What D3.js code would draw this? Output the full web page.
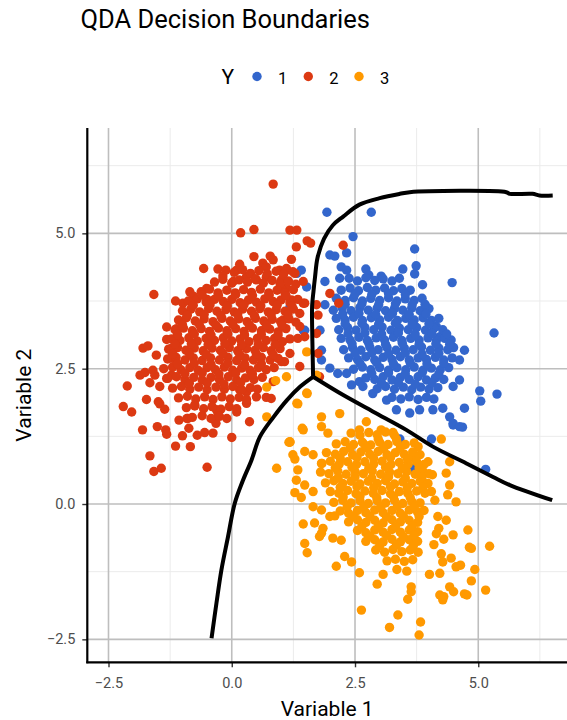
<!DOCTYPE html>
<html>
<head>
<meta charset="utf-8">
<script src="https://cdn.jsdelivr.net/npm/d3@7"></script>
<style>
  body { margin: 0; background: #fff; }
  text { font-family: Roboto, "Noto Sans", sans-serif; }
</style>
</head>
<body>
<div id="chart"></div>
<script>
// classes and colours
var classes = ["1", "2", "3"];
var classColors = ["#3366CC", "#DC3912", "#FF9900"];

// tick values
var xTicks = [-2.5, 0, 2.5, 5];
var yTicks = [-2.5, 0, 2.5, 5];
var xMinor = [-1.25, 1.25, 3.75, 6.25];
var yMinor = [-1.25, 1.25, 3.75, 6.25];

// class 1 (blue)
var bluePoints = [
  [1.93,5.39],[2.83,5.39],[2.46,4.94],[1.99,4.60],[2.09,4.58],[2.33,4.64],[2.22,4.38],[2.33,4.32],[2.19,4.17],
  [3.71,4.71],[3.47,4.34],[3.74,4.40],[3.71,4.25],[2.72,4.34],[2.78,4.23],[3.03,4.21],[4.47,4.09],[3.87,4.05],
  [5.32,3.16],[5.03,2.09],[5.05,1.90],[5.38,2.03],[4.72,1.77],[4.49,1.46],[4.68,1.42],[2.59,2.26],[2.43,2.20],
  [1.89,3.68],[1.48,3.21],[1.82,2.84],[1.82,2.66],[1.99,2.51],[2.15,2.41],[2.33,2.41],[2.66,2.17],[2.86,2.04],
  [3.14,1.92],[3.34,1.74],[3.61,1.68],[3.81,1.74],[4.08,1.74],[4.28,1.77],[4.42,1.61],[4.49,2.17],[4.62,2.29],
  [4.72,2.84],[4.62,2.66],[4.15,3.28],[4.22,3.09],[3.95,3.64],[3.88,3.52],[4.05,1.20],[5.15,0.64],[3.68,0.66],
  [3.41,1.20],[4.49,1.49],[4.62,1.43],[1.89,4.11],[1.41,4.32],[1.32,4.26],[1.52,4.01],[1.18,3.64],[1.45,3.21],[1.79,3.21],
  [2.38,4.17],[2.55,4.12],[2.72,4.18],[2.9,4.13],[3.07,4.16],[3.25,4.12],[3.4,4.17],
  [2.22,3.95],[2.4,3.99],[2.57,3.94],[2.75,4.0],[2.92,3.95],[3.1,3.99],[3.28,3.94],[3.45,3.98],[3.62,3.95],
  [2.12,3.8],[2.3,3.76],[2.47,3.81],[2.65,3.75],[2.82,3.8],[3.0,3.76],[3.18,3.81],[3.35,3.75],[3.52,3.79],[3.7,3.76],[3.86,3.8],
  [2.06,3.58],[2.24,3.62],[2.42,3.57],[2.6,3.63],[2.77,3.58],[2.95,3.62],[3.12,3.57],[3.3,3.61],[3.47,3.58],[3.65,3.62],[3.82,3.57],[4.0,3.61],
  [2.12,3.43],[2.3,3.4],[2.47,3.45],[2.65,3.39],[2.83,3.44],[3.0,3.4],[3.18,3.45],[3.36,3.39],[3.53,3.43],[3.7,3.4],[3.88,3.44],[4.05,3.39],[4.2,3.43],
  [2.17,3.22],[2.35,3.26],[2.52,3.21],[2.7,3.26],[2.88,3.22],[3.05,3.27],[3.23,3.21],[3.4,3.25],[3.58,3.22],[3.75,3.26],[3.93,3.21],[4.1,3.25],[4.28,3.22],
  [2.22,3.06],[2.4,3.03],[2.58,3.08],[2.75,3.02],[2.93,3.07],[3.1,3.03],[3.28,3.08],[3.45,3.02],[3.63,3.06],[3.8,3.03],[3.98,3.07],[4.15,3.02],[4.32,3.06],[4.45,3.03],
  [2.27,2.85],[2.45,2.89],[2.62,2.84],[2.8,2.9],[2.97,2.85],[3.15,2.89],[3.33,2.84],[3.5,2.88],[3.68,2.85],[3.85,2.9],[4.03,2.84],[4.2,2.88],[4.38,2.85],[4.5,2.89],
  [2.37,2.7],[2.55,2.67],[2.72,2.72],[2.9,2.66],[3.07,2.71],[3.25,2.67],[3.42,2.72],[3.6,2.66],[3.78,2.7],[3.95,2.67],[4.13,2.71],[4.3,2.66],[4.47,2.7],
  [2.47,2.49],[2.65,2.53],[2.82,2.48],[3.0,2.52],[3.18,2.47],[3.35,2.52],[3.53,2.48],[3.7,2.53],[3.88,2.47],[4.05,2.51],[4.23,2.48],[4.4,2.52],
  [2.72,2.33],[2.9,2.3],[3.07,2.35],[3.25,2.29],[3.42,2.34],[3.6,2.3],[3.78,2.35],[3.95,2.29],[4.13,2.33],[4.3,2.3],
  [2.95,2.13],[3.12,2.17],[3.3,2.12],[3.48,2.16],[3.65,2.11],[3.83,2.16],[4.0,2.12],[4.18,2.15],
  [3.25,1.97],[3.43,1.94],[3.6,1.98],[3.78,1.93],[3.95,1.97],[4.1,1.94],
  [2.5,3.88],[2.84,3.87],[3.18,3.89],[3.52,3.87],
  [2.3,3.69],[2.64,3.7],[2.98,3.68],[3.32,3.7],[3.66,3.68],[3.92,3.69],
  [2.25,3.51],[2.58,3.52],[2.92,3.5],[3.26,3.52],[3.6,3.5],[3.94,3.51],
  [2.3,3.33],[2.64,3.34],[2.98,3.32],[3.32,3.34],[3.66,3.32],[4.0,3.33],
  [2.36,3.15],[2.7,3.16],[3.04,3.14],[3.38,3.16],[3.72,3.14],[4.06,3.15],[4.36,3.14],
  [2.44,2.96],[2.78,2.97],[3.12,2.95],[3.46,2.97],[3.8,2.95],[4.14,2.96],[4.42,2.95],
  [2.5,2.78],[2.84,2.79],[3.18,2.77],[3.52,2.79],[3.86,2.77],[4.2,2.78],
  [2.6,2.6],[2.94,2.61],[3.28,2.59],[3.62,2.61],[3.96,2.59],[4.3,2.6],
  [2.84,2.41],[3.18,2.42],[3.52,2.4],[3.86,2.42],[4.2,2.4],
  [3.04,2.23],[3.38,2.24],[3.72,2.22],[4.06,2.24]
];

// class 2 (red)
var redPoints = [
  [0.84,5.91],[0.18,5.01],[0.45,5.07],[1.18,5.06],[1.32,5.06],[1.53,4.86],[1.60,4.82],[1.31,4.75],[0.45,4.57],
  [0.78,4.58],[0.84,4.51],[1.21,4.52],[-0.57,4.35],[-0.28,4.34],[-0.12,4.32],[-0.18,4.21],[0.10,4.32],[0.16,4.43],
  [0.63,4.45],[0.70,4.38],[0.97,4.32],[1.11,4.35],[1.28,4.26],[-1.58,3.87],[-0.85,3.92],[-0.78,3.84],[-0.51,3.98],
  [-0.50,3.78],[-1.14,3.75],[-0.99,3.71],[0.03,4.11],[0.30,4.20],[0.50,4.14],[0.70,4.19],[1.01,4.14],[1.11,4.00],[1.45,3.71],
  [-1.32,3.27],[-1.12,3.24],[-1.80,2.88],[-1.70,2.92],[-1.53,2.75],[-1.32,3.04],[-1.22,2.88],[-1.20,2.69],[-1.86,2.38],
  [-1.76,2.43],[-1.60,2.47],[-1.56,2.38],[-2.12,2.18],[-1.66,2.24],[-1.46,2.17],[-1.32,2.32],[-1.22,2.38],[-1.73,1.93],
  [-1.49,1.89],[-1.46,1.85],[-1.36,1.75],[-2.20,1.80],[-2.03,1.70],[-1.07,1.55],[-0.89,1.58],[-1.81,1.37],[-1.51,1.43],
  [-1.34,1.37],[-1.32,1.29],[-1.00,1.26],[-0.87,1.40],[-1.14,1.07],[-0.84,1.06],[-0.70,1.27],[-0.55,1.32],[-0.38,1.31],
  [-0.31,1.74],[-0.28,1.63],[-0.32,1.49],[-0.91,1.58],[-0.75,1.83],[0.00,1.23],[-1.66,0.89],[-1.58,0.60],[-1.43,0.66],
  [-0.50,0.68],[0.10,1.70],[0.30,1.86],[0.36,1.52],[0.30,2.07],[0.16,2.11],[0.50,1.98],[0.70,1.97],[0.80,1.95],
  [0.84,2.26],[1.01,2.63],[1.18,2.78],[1.38,2.54],[1.34,3.06],
  [1.11,4.32],[1.24,4.29],[1.45,4.11],[1.01,3.98],[1.21,3.77],[1.48,3.71],[1.72,3.68],[1.75,3.49],[1.38,3.52],
  [1.04,3.40],[1.38,3.28],[1.48,3.09],[1.72,3.15],[1.75,2.78],[1.78,2.35],[1.07,2.63],[1.99,3.89],[2.17,3.71],[2.26,4.78],
  [0.05,4.28],[0.22,4.33],[0.38,4.26],[0.55,4.31],[0.72,4.25],[0.9,4.3],[1.05,4.24],
  [-0.35,4.1],[-0.18,4.15],[0.0,4.08],[0.15,4.14],[0.32,4.1],[0.48,4.16],[0.64,4.08],[0.82,4.13],[0.98,4.07],[1.15,4.12],[1.3,4.06],
  [-0.62,3.92],[-0.45,3.97],[-0.28,3.9],[-0.1,3.95],[0.07,3.9],[0.24,3.96],[0.4,3.91],[0.58,3.97],[0.75,3.9],[0.92,3.95],[1.08,3.9],[1.25,3.96],
  [-0.88,3.75],[-0.7,3.79],[-0.52,3.73],[-0.35,3.78],[-0.17,3.74],[0.0,3.78],[0.17,3.72],[0.34,3.77],[0.5,3.73],[0.67,3.79],[0.84,3.74],[1.0,3.77],[1.18,3.72],[1.34,3.78],
  [-1.0,3.57],[-0.83,3.6],[-0.65,3.55],[-0.47,3.61],[-0.3,3.56],[-0.12,3.59],[0.05,3.55],[0.22,3.6],[0.4,3.56],[0.57,3.61],[0.74,3.55],[0.9,3.59],[1.08,3.56],[1.25,3.6],
  [-1.08,3.4],[-0.92,3.44],[-0.74,3.38],[-0.56,3.42],[-0.38,3.37],[-0.2,3.43],[-0.03,3.38],[0.14,3.42],[0.31,3.37],[0.48,3.43],[0.65,3.38],[0.82,3.41],[0.99,3.37],[1.16,3.42],[1.3,3.36],
  [-1.15,3.22],[-0.98,3.25],[-0.8,3.2],[-0.62,3.24],[-0.45,3.19],[-0.27,3.25],[-0.1,3.2],[0.08,3.24],[0.25,3.19],[0.42,3.25],[0.6,3.2],[0.77,3.23],[0.94,3.18],[1.1,3.24],
  [-1.22,3.05],[-1.05,3.02],[-0.87,3.07],[-0.7,3.01],[-0.52,3.06],[-0.35,3.02],[-0.17,3.07],[0.0,3.01],[0.17,3.05],[0.35,3.0],[0.52,3.06],[0.7,3.02],[0.87,3.06],[1.03,3.0],[1.18,3.05],
  [-1.28,2.86],[-1.1,2.89],[-0.93,2.84],[-0.76,2.88],[-0.58,2.83],[-0.4,2.88],[-0.23,2.84],[-0.05,2.89],[0.12,2.83],[0.3,2.87],[0.47,2.84],[0.64,2.89],[0.8,2.83],[0.98,2.87],
  [-1.3,2.68],[-1.13,2.71],[-0.95,2.66],[-0.78,2.7],[-0.6,2.65],[-0.43,2.7],[-0.25,2.66],[-0.08,2.71],[0.1,2.65],[0.27,2.7],[0.44,2.66],[0.6,2.71],[0.78,2.66],[0.94,2.69],
  [-1.38,2.5],[-1.2,2.53],[-1.03,2.48],[-0.85,2.52],[-0.68,2.47],[-0.5,2.52],[-0.33,2.48],[-0.15,2.53],[0.02,2.47],[0.2,2.51],[0.37,2.47],[0.54,2.52],[0.7,2.48],[0.86,2.52],
  [-1.3,2.32],[-1.12,2.35],[-0.95,2.3],[-0.77,2.34],[-0.6,2.29],[-0.42,2.34],[-0.25,2.3],[-0.07,2.35],[0.1,2.29],[0.28,2.33],[0.45,2.3],[0.62,2.34],
  [-1.2,2.14],[-1.02,2.17],[-0.85,2.12],[-0.67,2.16],[-0.5,2.11],[-0.32,2.16],[-0.15,2.12],[0.02,2.17],[0.2,2.11],[0.38,2.15],[0.52,2.12],
  [-1.08,1.96],[-0.9,1.99],[-0.73,1.94],[-0.55,1.98],[-0.38,1.93],[-0.2,1.98],[-0.03,1.94],[0.15,1.97],[0.3,1.93],
  [-0.92,1.78],[-0.75,1.81],[-0.57,1.76],[-0.4,1.8],[-0.22,1.75],[-0.05,1.8],[0.1,1.76],
  [-0.8,1.6],[-0.6,1.63],[-0.42,1.58],[-0.25,1.62],[-0.1,1.58],
  [-0.6,3.86],[-0.27,3.85],[0.08,3.87],[0.42,3.85],[0.76,3.86],[1.1,3.85],
  [-0.78,3.67],[-0.44,3.68],[-0.09,3.66],[0.25,3.68],[0.59,3.66],[0.92,3.67],[1.22,3.66],
  [-0.9,3.49],[-0.56,3.5],[-0.22,3.48],[0.12,3.5],[0.46,3.48],[0.8,3.49],[1.14,3.5],
  [-1.0,3.31],[-0.66,3.32],[-0.32,3.3],[0.02,3.32],[0.36,3.3],[0.7,3.31],[1.02,3.3],
  [-1.1,3.13],[-0.76,3.14],[-0.42,3.12],[-0.08,3.14],[0.26,3.12],[0.6,3.13],[0.94,3.12],
  [-1.15,2.95],[-0.82,2.96],[-0.48,2.94],[-0.14,2.96],[0.2,2.94],[0.54,2.95],[0.88,2.94],
  [-1.2,2.77],[-0.86,2.78],[-0.52,2.76],[-0.18,2.78],[0.16,2.76],[0.5,2.77],[0.84,2.76],
  [-1.1,2.59],[-0.76,2.6],[-0.42,2.58],[-0.08,2.6],[0.26,2.58],[0.6,2.59],
  [-0.95,2.41],[-0.6,2.42],[-0.26,2.4],[0.08,2.42],[0.42,2.4],
  [-0.86,2.23],[-0.5,2.24],[-0.16,2.22],[0.18,2.24]
];

// class 3 (orange)
var orangePoints = [
  [0.91,0.66],[1.18,1.14],[1.24,0.91],[1.28,0.83],[1.45,-0.37],[1.48,-0.73],[1.53,-0.90],[1.68,-0.35],[1.78,-0.60],
  [1.85,-0.45],[1.99,-0.23],[2.09,-0.22],[2.12,-1.15],[2.29,-0.97],[2.43,-1.07],[2.59,-1.27],[2.63,-1.96],[2.95,-1.48],
  [3.07,-1.30],[3.20,-2.28],[3.37,-2.05],[3.80,-2.42],[3.83,-2.18],[3.57,-1.76],[3.64,-1.62],[3.64,-1.53],[4.01,-1.30],
  [4.22,-1.28],[4.22,-1.68],[4.30,-1.71],[4.42,-1.53],[4.50,-1.62],[4.72,-1.66],[4.77,-1.68],[4.86,-1.42],[4.93,-1.21],
  [5.15,-1.59],[5.23,-0.78],[4.79,-0.48],[4.82,-0.80],[4.86,-0.82],[4.45,-1.00],[4.55,-1.16],[4.64,-1.13],[4.49,-0.57],
  [4.35,-0.30],[4.18,-0.23],[4.25,-0.92],[4.28,-1.07],[4.55,0.04],[4.38,0.17],[4.42,0.35],[4.35,0.57],[4.42,0.78],
  [4.12,0.07],[4.05,0.23],[4.07,0.54],[3.98,0.78],[4.25,1.20],[3.78,1.06],[3.68,0.87],[3.34,1.20],[3.27,1.32],
  [2.97,1.20],[3.03,1.37],[2.73,1.52],[2.59,1.37],[2.70,1.09],[1.82,1.61],[2.19,1.67],[1.82,1.43],[1.95,1.31],
  [1.48,0.97],[1.65,0.91],[1.82,0.75],[1.34,0.63],[1.31,0.44],[1.48,0.35],[1.28,0.21],[1.41,0.12],[1.65,0.23],
  [1.65,-0.05],[1.82,-0.11],[2.05,-0.63],[2.22,-0.67],[1.82,-0.54],[4.28,-1.77],[4.15,-0.55],[4.3,-0.65],[4.1,-0.75],[4.2,-0.45],
  [1.52,2.81],[1.11,2.35],[0.71,2.16],[0.71,1.61],[1.72,2.38],[1.52,2.05],[1.32,1.86],[1.45,1.37],[1.18,1.15],
  [0.89,2.28],[1.34,1.85],[1.53,2.04],[1.16,1.14],[1.43,1.40],
  [2.42,1.31],[2.6,1.27],[2.78,1.32],[2.95,1.28],[3.12,1.33],[3.3,1.27],
  [2.12,1.11],[2.3,1.15],[2.47,1.1],[2.65,1.14],[2.82,1.09],[3.0,1.14],[3.17,1.1],[3.35,1.15],[3.52,1.1],[3.7,1.13],
  [1.92,0.95],[2.1,0.92],[2.27,0.97],[2.45,0.91],[2.62,0.96],[2.8,0.92],[2.97,0.97],[3.15,0.91],[3.32,0.95],[3.5,0.92],[3.67,0.96],[3.82,0.91],
  [1.83,0.75],[2.0,0.79],[2.18,0.74],[2.35,0.78],[2.53,0.73],[2.7,0.78],[2.88,0.74],[3.05,0.79],[3.23,0.73],[3.4,0.77],[3.58,0.74],[3.75,0.78],[3.9,0.73],
  [1.8,0.59],[1.97,0.56],[2.15,0.61],[2.32,0.55],[2.5,0.6],[2.67,0.56],[2.85,0.61],[3.02,0.55],[3.2,0.59],[3.37,0.56],[3.55,0.6],[3.72,0.55],[3.88,0.6],[4.0,0.56],
  [1.9,0.39],[2.07,0.43],[2.25,0.38],[2.42,0.42],[2.6,0.37],[2.77,0.42],[2.95,0.38],[3.12,0.43],[3.3,0.37],[3.47,0.41],[3.65,0.38],[3.82,0.42],[3.98,0.38],
  [2.0,0.23],[2.17,0.2],[2.35,0.25],[2.52,0.19],[2.7,0.24],[2.87,0.2],[3.05,0.25],[3.22,0.19],[3.4,0.23],[3.57,0.2],[3.75,0.24],[3.92,0.2],
  [2.07,0.03],[2.25,0.07],[2.42,0.02],[2.6,0.06],[2.77,0.01],[2.95,0.06],[3.12,0.02],[3.3,0.07],[3.47,0.01],[3.65,0.05],[3.82,0.02],
  [2.2,-0.13],[2.37,-0.17],[2.55,-0.12],[2.72,-0.16],[2.9,-0.11],[3.07,-0.16],[3.25,-0.12],[3.42,-0.17],[3.6,-0.11],[3.77,-0.15],[3.9,-0.12],
  [2.37,-0.33],[2.55,-0.29],[2.72,-0.34],[2.9,-0.3],[3.07,-0.35],[3.25,-0.29],[3.42,-0.33],[3.6,-0.3],[3.77,-0.34],
  [2.55,-0.49],[2.72,-0.53],[2.9,-0.48],[3.07,-0.52],[3.25,-0.47],[3.42,-0.52],[3.6,-0.48],[3.77,-0.51],
  [2.72,-0.69],[2.9,-0.66],[3.07,-0.7],[3.25,-0.65],[3.42,-0.7],[3.6,-0.66],[3.77,-0.69],
  [2.92,-0.85],[3.1,-0.89],[3.27,-0.84],[3.45,-0.88],[3.62,-0.85],[3.78,-0.89],
  [3.15,-1.05],[3.32,-1.02],[3.5,-1.06],[3.67,-1.03],
  [3.35,-1.21],[3.55,-1.24],
  [2.4,1.03],[2.74,1.04],[3.08,1.02],[3.42,1.04],
  [2.2,0.85],[2.54,0.86],[2.88,0.84],[3.22,0.86],[3.56,0.84],
  [2.1,0.67],[2.44,0.68],[2.78,0.66],[3.12,0.68],[3.46,0.66],[3.8,0.67],
  [2.16,0.49],[2.5,0.5],[2.84,0.48],[3.18,0.5],[3.52,0.48],[3.86,0.49],
  [2.2,0.31],[2.54,0.32],[2.88,0.3],[3.22,0.32],[3.56,0.3],[3.88,0.31],
  [2.26,0.13],[2.6,0.14],[2.94,0.12],[3.28,0.14],[3.62,0.12],
  [2.34,-0.05],[2.68,-0.04],[3.02,-0.06],[3.36,-0.04],[3.7,-0.06],
  [2.46,-0.23],[2.8,-0.22],[3.14,-0.24],[3.48,-0.22],[3.8,-0.23],
  [2.64,-0.41],[2.98,-0.4],[3.32,-0.42],[3.66,-0.4],
  [2.8,-0.59],[3.14,-0.58],[3.48,-0.6],[3.7,-0.58],
  [3.0,-0.77],[3.34,-0.76],[3.68,-0.78]
];

// decision boundaries, all starting from the triple point
var boundary12 = [[1.65,2.35],[1.64,2.8],[1.63,3.3],[1.63,3.65],[1.66,3.95],[1.69,4.2],[1.74,4.55],[1.87,4.9],
  [2.05,5.15],[2.26,5.31],[2.59,5.53],[3.0,5.65],[3.41,5.73],[3.61,5.76],[5.57,5.76],[5.64,5.73],[6.1,5.73],[6.24,5.7],[6.51,5.7]];
var boundary23 = [[1.65,2.35],[1.39,2.17],[1.12,1.92],[0.85,1.61],[0.57,1.24],[0.4,0.81],[0.22,0.42],[0.06,0.01],
  [-0.075,-0.6],[-0.21,-1.22],[-0.31,-1.83],[-0.41,-2.48]];
var boundary13 = [[1.65,2.35],[2.19,2.05],[2.86,1.71],[3.54,1.37],[4.08,1.06],[4.76,0.75],[5.3,0.5],[5.64,0.35],[6.5,0.07]];

var svgWidth = 567;
var svgHeight = 720;

var panel = { left: 87.3, right: 567, top: 128, bottom: 662.3 };

var svg = d3.select("#chart")
  .append("svg")
  .attr("width", svgWidth)
  .attr("height", svgHeight);

var x = d3.scaleLinear().domain([-2.93, 6.8]).range([panel.left, panel.right]);
var y = d3.scaleLinear().domain([-2.924, 6.946]).range([panel.bottom, panel.top]);

// grid
var grid = svg.append("g");
grid.selectAll(".xminor").data(xMinor).enter().append("line")
  .attr("x1", d => x(d)).attr("x2", d => x(d))
  .attr("y1", panel.top).attr("y2", panel.bottom)
  .attr("stroke", "#ebebeb").attr("stroke-width", 1);
grid.selectAll(".yminor").data(yMinor).enter().append("line")
  .attr("y1", d => y(d)).attr("y2", d => y(d))
  .attr("x1", panel.left).attr("x2", panel.right)
  .attr("stroke", "#ebebeb").attr("stroke-width", 1);
grid.selectAll(".xmajor").data(xTicks).enter().append("line")
  .attr("x1", d => x(d)).attr("x2", d => x(d))
  .attr("y1", panel.top).attr("y2", panel.bottom)
  .attr("stroke", "#bebebe").attr("stroke-width", 1.6);
grid.selectAll(".ymajor").data(yTicks).enter().append("line")
  .attr("y1", d => y(d)).attr("y2", d => y(d))
  .attr("x1", panel.left).attr("x2", panel.right)
  .attr("stroke", "#bebebe").attr("stroke-width", 1.6);

// points, one layer per class
var pointSets = [bluePoints, redPoints, orangePoints];
pointSets.forEach(function(pts, i) {
  svg.append("g").selectAll("circle")
    .data(pts)
    .enter()
    .append("circle")
    .attr("cx", d => x(d[0]))
    .attr("cy", d => y(d[1]))
    .attr("r", 4.7)
    .attr("fill", classColors[i]);
});

// boundaries
var line = d3.line()
  .x(d => x(d[0]))
  .y(d => y(d[1]))
  .curve(d3.curveCatmullRom);

[boundary12, boundary23, boundary13].forEach(function(b) {
  svg.append("path")
    .attr("d", line(b))
    .attr("fill", "none")
    .attr("stroke", "#000")
    .attr("stroke-width", 4)
    .attr("stroke-linejoin", "round");
});

// axes
var bottomAxis = d3.axisBottom(x).tickValues(xTicks).tickSize(5).tickPadding(10)
  .tickFormat(d3.format(".1f"));
var leftAxis = d3.axisLeft(y).tickValues(yTicks).tickSize(5).tickPadding(7)
  .tickFormat(d3.format(".1f"));

var xAxisG = svg.append("g")
  .attr("transform", `translate(0, ${panel.bottom})`)
  .call(bottomAxis);
var yAxisG = svg.append("g")
  .attr("transform", `translate(${panel.left}, 0)`)
  .call(leftAxis);

[xAxisG, yAxisG].forEach(function(g) {
  g.select(".domain").remove();
  g.selectAll(".tick line").attr("stroke", "#333").attr("stroke-width", 1.4);
  g.selectAll(".tick text")
    .attr("fill", "#4d4d4d")
    .style("font-size", "14.5px")
    .style("font-family", "Roboto, sans-serif");
});

// axis lines
svg.append("line")
  .attr("x1", panel.left).attr("x2", panel.left)
  .attr("y1", panel.top).attr("y2", panel.bottom + 1)
  .attr("stroke", "#000").attr("stroke-width", 2.2);
svg.append("line")
  .attr("x1", panel.left - 1).attr("x2", panel.right)
  .attr("y1", panel.bottom).attr("y2", panel.bottom)
  .attr("stroke", "#000").attr("stroke-width", 2.2);

// title
svg.append("text")
  .attr("x", 80.5)
  .attr("y", 28)
  .style("font-size", "25.5px")
  .attr("fill", "#000")
  .text("QDA Decision Boundaries");

// legend
var legend = svg.append("g");
legend.append("text")
  .attr("x", 221.5)
  .attr("y", 84)
  .style("font-size", "21px")
  .text("Y");
var legendX = [257, 308.3, 359];
classes.forEach(function(c, i) {
  legend.append("circle")
    .attr("cx", legendX[i])
    .attr("cy", 76.5)
    .attr("r", 4.7)
    .attr("fill", classColors[i]);
  legend.append("text")
    .attr("x", legendX[i] + 21)
    .attr("y", 83.5)
    .style("font-size", "16.5px")
    .text(c);
});

// axis titles
svg.append("text")
  .attr("x", (panel.left + panel.right) / 2)
  .attr("y", 716)
  .attr("text-anchor", "middle")
  .style("font-size", "21px")
  .text("Variable 1");

svg.append("text")
  .attr("transform", `translate(31, ${(panel.top + panel.bottom) / 2}) rotate(-90)`)
  .attr("text-anchor", "middle")
  .style("font-size", "21px")
  .text("Variable 2");
</script>
</body>
</html>
